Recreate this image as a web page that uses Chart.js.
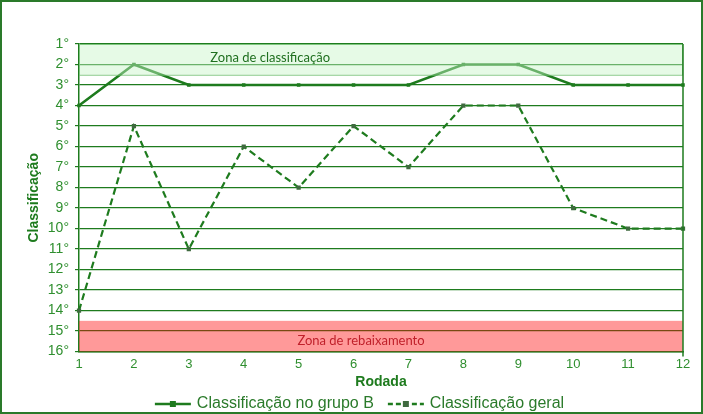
<!DOCTYPE html>
<html>
<head>
<meta charset="utf-8">
<script src="https://cdn.jsdelivr.net/npm/chart.js@4"></script>
<style>
  html, body { margin: 0; padding: 0; background: #fff; }
  #box { width: 699px; height: 410px; border: 2px solid #2a7a2a; }
</style>
</head>
<body>
<div id="box"><canvas id="chart" width="699" height="410"></canvas></div>
<script>
const rodadas = ['1', '2', '3', '4', '5', '6', '7', '8', '9', '10', '11', '12'];
const grupoB = [4, 2, 3, 3, 3, 3, 3, 2, 2, 3, 3, 3];
const geral = [14, 5, 11, 6, 8, 5, 7, 4, 4, 9, 10, 10];

const green = '#1e7b1e';
const tickGreen = '#2f8f2f';
const fam = '"Liberation Sans", Arial, sans-serif';

// legend swatch: line with a small square in the middle
function swatch(dashed) {
  const c = document.createElement('canvas');
  c.width = 52; c.height = 10;
  const g = c.getContext('2d');
  g.strokeStyle = green;
  g.lineWidth = 2.5;
  if (dashed) g.setLineDash([5, 3]);
  g.beginPath(); g.moveTo(14, 5); g.lineTo(50, 5); g.stroke();
  g.fillStyle = dashed ? '#3f6a3f' : green;
  g.fillRect(29, 2, 6, 6);
  return c;
}

const zonas = {
  id: 'zonas',
  afterDatasetsDraw(chart) {
    const { ctx, chartArea: a, scales: { x, y } } = chart;
    ctx.save();
    let t = y.getPixelForValue(1), b = y.getPixelForValue(2.5);
    ctx.fillStyle = 'rgba(200,245,200,0.45)';
    ctx.fillRect(a.left, t, a.right - a.left, b - t);
    ctx.strokeStyle = 'rgba(110,190,110,0.8)';
    ctx.lineWidth = 1;
    ctx.strokeRect(a.left + 0.5, t + 0.5, a.right - a.left - 1, b - t);
    t = y.getPixelForValue(14.5); b = y.getPixelForValue(16);
    ctx.fillStyle = 'rgba(255,0,0,0.4)';
    ctx.fillRect(a.left, t, a.right - a.left, b - t);
    ctx.font = '13px Lato, "Open Sans", sans-serif';
    ctx.textAlign = 'center';
    ctx.textBaseline = 'middle';
    ctx.fillStyle = '#1f6f1f';
    ctx.fillText('Zona de classificação', (x.getPixelForValue(3) + x.getPixelForValue(4)) / 2 - 1, y.getPixelForValue(1.65));
    ctx.fillStyle = '#c0202a';
    ctx.fillText('Zona de rebaixamento', (x.getPixelForValue(5) + x.getPixelForValue(6)) / 2 - 20, y.getPixelForValue(15.45));
    ctx.restore();
  }
};

new Chart(document.getElementById('chart'), {
  type: 'line',
  data: {
    labels: rodadas,
    datasets: [{
      label: 'Classificação no grupo B',
      data: grupoB,
      borderColor: green,
      backgroundColor: green,
      borderWidth: 2.5,
      pointStyle: 'rect',
      pointRadius: 2.5,
      pointBackgroundColor: green,
      pointBorderWidth: 0,
      tension: 0
    }, {
      label: 'Classificação geral',
      data: geral,
      borderColor: green,
      backgroundColor: '#3f6a3f',
      borderWidth: 2.2,
      borderDash: [7, 4],
      pointStyle: 'rect',
      pointRadius: 3,
      pointBackgroundColor: '#3f6a3f',
      pointBorderWidth: 0,
      tension: 0
    }]
  },
  options: {
    responsive: false,
    animation: false,
    layout: { padding: { top: 42, right: 18, left: 24, bottom: -10 } },
    plugins: {
      tooltip: { enabled: false },
      legend: {
        position: 'bottom',
        labels: {
          color: '#2a7a2a',
          font: { size: 16, family: fam },
          usePointStyle: true,
          pointStyleWidth: 44,
          padding: 4,
          generateLabels(chart) {
            return chart.data.datasets.map((d, i) => ({
              text: d.label,
              pointStyle: swatch(i === 1),
              fontColor: '#2a7a2a',
              datasetIndex: i,
              hidden: false,
              lineWidth: 0
            }));
          }
        }
      }
    },
    scales: {
      x: {
        offset: false,
        grid: { display: false, drawTicks: true, tickLength: 5, color: green },
        border: { color: green, width: 1.5 },
        ticks: { color: tickGreen, padding: 0, autoSkip: false, font: { size: 13, family: fam } },
        title: { display: true, text: 'Rodada', color: green, padding: { top: 2, bottom: 1 }, font: { size: 14, weight: 'bold', family: fam } }
      },
      y: {
        reverse: true,
        min: 1,
        max: 16,
        afterFit(s) { s.width = 53; },
        grid: { color: green, lineWidth: 1.2, drawTicks: true, tickLength: 4 },
        border: { color: green, width: 1.5 },
        ticks: { stepSize: 1, autoSkip: false, color: tickGreen, padding: 6, callback: v => v + '°', font: { size: 14, family: fam } },
        title: { display: true, text: 'Classificação', color: green, padding: 0, font: { size: 14, weight: 'bold', family: fam } }
      }
    }
  },
  plugins: [zonas, {
    id: 'rightBorder',
    afterDraw(chart) {
      const { ctx, chartArea: a } = chart;
      ctx.save();
      ctx.strokeStyle = green;
      ctx.lineWidth = 1.5;
      ctx.beginPath(); ctx.moveTo(a.right, a.top); ctx.lineTo(a.right, a.bottom + 5); ctx.stroke();
      ctx.restore();
    }
  }]
});
</script>
</body>
</html>
